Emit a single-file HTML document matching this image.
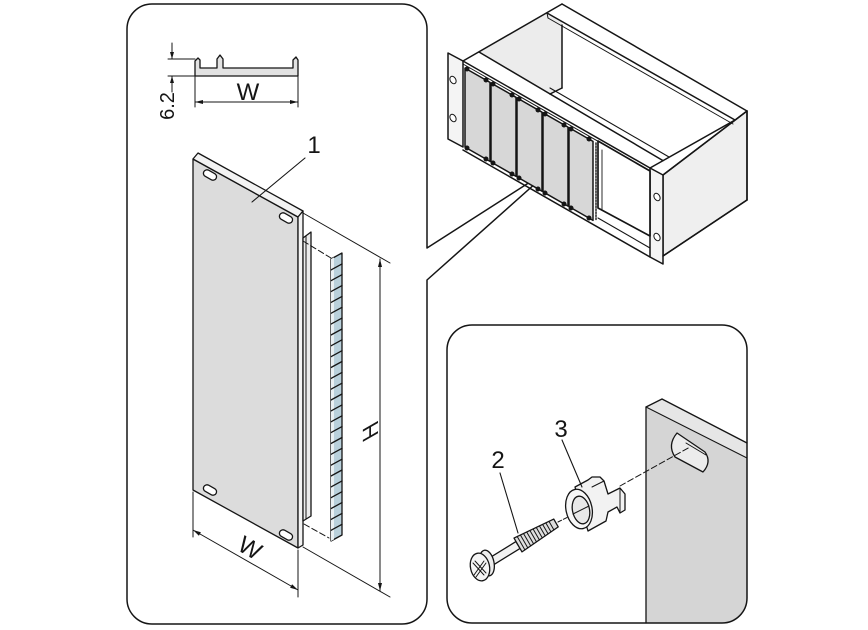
<!DOCTYPE html>
<html><head><meta charset="utf-8"><style>
html,body{margin:0;padding:0;background:#fff;}
svg{display:block;}
text{font-family:"Liberation Sans",Arial,sans-serif;fill:#151515;stroke:none;}
</style></head><body>
<svg width="868" height="630" viewBox="0 0 868 630" xmlns="http://www.w3.org/2000/svg">
<defs>
<clipPath id="rb"><path d="M472,325 H722 A25,25 0 0 1 747,350 V598 A25,25 0 0 1 722,623 H472 A25,25 0 0 1 447,598 V350 A25,25 0 0 1 472,325 Z"/></clipPath>
</defs>
<g fill="none" stroke="#151515" stroke-width="1.3" stroke-linejoin="round" stroke-linecap="round">

<!-- ========== LEFT BOX ========== -->
<path d="M127,29 A25,25 0 0 1 152,4 H402 A25,25 0 0 1 427,29 V248 L555,166 L427,280 V599 A25,25 0 0 1 402,624 H152 A25,25 0 0 1 127,599 Z" stroke-width="1.5"/>

<!-- profile detail -->
<path d="M195,76 V61 L198,58 L200,60 V68 H217 V59 L220,55 L223,59 V68 H293 V60 L296,57 L298,60 V76 Z" fill="#e2e2e2"/>
<line x1="168" y1="59" x2="195" y2="59" stroke-width="1"/>
<line x1="168" y1="76" x2="195" y2="76" stroke-width="1"/>
<line x1="172" y1="43" x2="172" y2="59" stroke-width="1"/>
<line x1="172" y1="76" x2="172" y2="92" stroke-width="1"/>
<polygon points="172,59 170,52 174,52" fill="#151515" stroke="none"/>
<polygon points="172,76 170,83 174,83" fill="#151515" stroke="none"/>
<line x1="195" y1="76" x2="195" y2="107" stroke-width="1"/>
<line x1="298" y1="76" x2="298" y2="107" stroke-width="1"/>
<line x1="195" y1="102" x2="298" y2="102" stroke-width="1"/>
<polygon points="195,102 203,100 203,104" fill="#151515" stroke="none"/>
<polygon points="298,102 290,100 290,104" fill="#151515" stroke="none"/>

<!-- big panel -->
<polygon points="193,159 298,217 298,548 193,490" fill="#dcdcdc"/>
<polygon points="193,159 198,153 303,211 298,217" fill="#f3f3f3"/>
<polygon points="298,217 303,211 303,545 298,548" fill="#f3f3f3"/>
<rect x="-7" y="-3.5" width="14" height="7" rx="3.5" transform="translate(210,175) rotate(29)" fill="#fff"/>
<rect x="-7" y="-3.5" width="14" height="7" rx="3.5" transform="translate(286,218) rotate(29)" fill="#fff"/>
<rect x="-7" y="-3.5" width="14" height="7" rx="3.5" transform="translate(210,490) rotate(29)" fill="#fff"/>
<rect x="-7" y="-3.5" width="14" height="7" rx="3.5" transform="translate(286,535) rotate(29)" fill="#fff"/>

<!-- rail piece behind -->
<polygon points="303,238 311,232 311,516 303,521" fill="#ebebeb"/>
<line x1="306" y1="236" x2="306" y2="519" stroke-width="1"/>

<!-- dashed connectors -->
<line x1="303" y1="241" x2="331" y2="258" stroke-dasharray="6,3" stroke-width="1"/>
<line x1="304" y1="524" x2="329" y2="538" stroke-dasharray="6,3" stroke-width="1"/>

<!-- ladder strip -->
<polygon points="331,259 342,253 342,535 331,541" fill="#b9d0db"/>
<polygon points="331,259 334,257.4 334,539.4 331,541" fill="#e9eff2" stroke="none"/>
<path stroke-width="1.3" d="M331,269.9 l11,-6 M331,280.7 l11,-6 M331,291.6 l11,-6 M331,302.4 l11,-6 M331,313.3 l11,-6 M331,324.1 l11,-6 M331,335 l11,-6 M331,345.8 l11,-6 M331,356.7 l11,-6 M331,367.5 l11,-6 M331,378.4 l11,-6 M331,389.2 l11,-6 M331,400 l11,-6 M331,410.9 l11,-6 M331,421.8 l11,-6 M331,432.6 l11,-6 M331,443.5 l11,-6 M331,454.3 l11,-6 M331,465.2 l11,-6 M331,476 l11,-6 M331,486.9 l11,-6 M331,497.7 l11,-6 M331,508.6 l11,-6 M331,519.4 l11,-6 M331,530.3 l11,-6"/>

<!-- H dimension -->
<line x1="303" y1="213" x2="390" y2="263" stroke-width="1"/>
<line x1="303" y1="547" x2="390" y2="597" stroke-width="1"/>
<line x1="380" y1="259" x2="380" y2="591" stroke-width="1"/>
<polygon points="380,259 378,267 382,267" fill="#151515" stroke="none"/>
<polygon points="380,591 378,583 382,583" fill="#151515" stroke="none"/>

<!-- W bottom dimension -->
<line x1="193" y1="492" x2="193" y2="537" stroke-width="1"/>
<line x1="298" y1="550" x2="298" y2="597" stroke-width="1"/>
<line x1="193" y1="530" x2="298" y2="590" stroke-width="1"/>
<polygon points="193,530 198.9,535.7 200.9,532.2" fill="#151515" stroke="none"/>
<polygon points="298,590 290.1,587.7 292.1,584.3" fill="#151515" stroke="none"/>

<!-- leader 1 -->
<line x1="305" y1="158" x2="252" y2="202" stroke-width="1.1"/>

<!-- ========== RACK ========== -->
<g stroke-width="1.5">
<polygon points="663,175 747,111 747,200 663,256" fill="#efefef"/>
<polygon points="650,168 663,175 663,264 650,257" fill="#f4f4f4"/>
<polygon points="448,53 463,61 463,147 448,139" fill="#f4f4f4"/>
<polygon points="479,52 547,13 562,22 562,88 550,94" fill="#ececec" stroke="none"/>

<line x1="463" y1="61" x2="562" y2="4"/>
<line x1="562" y1="4" x2="747" y2="111"/>
<line x1="547" y1="13" x2="735" y2="120"/>
<line x1="548" y1="18" x2="733" y2="124" stroke-width="1"/>
<line x1="547" y1="13" x2="548" y2="18" stroke-width="1"/>
<line x1="562" y1="25" x2="562" y2="88"/>
<line x1="562" y1="88" x2="550" y2="94"/>
<line x1="550" y1="88" x2="669" y2="157" stroke-width="1.1"/>
<line x1="479" y1="52" x2="663" y2="160.6"/>
<line x1="463" y1="61" x2="650" y2="168"/>
<line x1="463" y1="64" x2="650" y2="171" stroke-width="1"/>
<line x1="650" y1="168" x2="735" y2="120"/>
<line x1="463" y1="150" x2="650" y2="257"/>

<!-- front panels -->
<g fill="#d7d7d7">
<polygon points="465,68.1 490,82.4 490,161.4 465,147.1"/>
<polygon points="491,83 516,97.3 516,176.3 491,162"/>
<polygon points="517,97.9 542,112.2 542,191.2 517,176.9"/>
<polygon points="543,112.8 568,127.1 568,206.1 543,191.8"/>
<polygon points="569,127.6 593,141.4 593,220.4 569,206.6"/>
</g>
<g fill="#151515" stroke="none">
<circle cx="467" cy="69" r="2.5"/><circle cx="486" cy="80" r="2.5"/><circle cx="467" cy="148" r="2.5"/><circle cx="486" cy="159" r="2.5"/>
<circle cx="493" cy="84" r="2.5"/><circle cx="512" cy="95" r="2.5"/><circle cx="493" cy="163" r="2.5"/><circle cx="512" cy="174" r="2.5"/>
<circle cx="519" cy="99" r="2.5"/><circle cx="538" cy="110" r="2.5"/><circle cx="519" cy="178" r="2.5"/><circle cx="538" cy="189" r="2.5"/>
<circle cx="545" cy="114" r="2.5"/><circle cx="564" cy="125" r="2.5"/><circle cx="545" cy="193" r="2.5"/><circle cx="564" cy="204" r="2.5"/>
<circle cx="571" cy="129" r="2.5"/><circle cx="589" cy="139" r="2.5"/><circle cx="571" cy="208" r="2.5"/><circle cx="589" cy="218" r="2.5"/>
</g>

<!-- empty slot -->
<polygon points="598,141 650,171 650,236 598,208" fill="#fff" stroke-width="1.7"/>
<line x1="602" y1="150" x2="602" y2="210" stroke-width="0.9"/>
<line x1="598" y1="218" x2="650" y2="248" stroke-width="1.1"/>
<line x1="596" y1="143" x2="596" y2="220" stroke-dasharray="1.5,1.5" stroke-width="1.4"/>

<!-- right side -->
<line x1="663" y1="175" x2="747" y2="111"/>
<line x1="747" y1="111" x2="747" y2="200"/>
<line x1="747" y1="200" x2="663" y2="256"/>
</g>

<!-- flange holes -->
<g fill="#fff" stroke-width="1">
<ellipse cx="453" cy="80" rx="2.8" ry="4" transform="rotate(-30 453 80)"/>
<ellipse cx="453" cy="118" rx="2.8" ry="4" transform="rotate(-30 453 118)"/>
<ellipse cx="657" cy="197" rx="2.8" ry="4" transform="rotate(-30 657 197)"/>
<ellipse cx="657" cy="237" rx="2.8" ry="4" transform="rotate(-30 657 237)"/>
</g>

<!-- ========== BOTTOM RIGHT BOX ========== -->
<g clip-path="url(#rb)">
<polygon points="646,407 748,458 760,640 646,640" fill="#d5d5d5" stroke="none"/>
<polygon points="646,407 662,399 760,449 760,464" fill="#e6e6e6" stroke="none"/>
</g>
<line x1="646" y1="407" x2="646" y2="623"/>
<line x1="646" y1="407" x2="662" y2="399"/>
<line x1="662" y1="399" x2="747" y2="443"/>
<line x1="646" y1="407" x2="747" y2="458" stroke-width="1"/>
<path d="M677,433 L705,452 Q712,462 703,472 L675,457 Q667,445 677,433 Z" fill="#ececec"/>
<line x1="686" y1="443" x2="706" y2="455" stroke-width="1"/>
<line x1="620" y1="486" x2="690" y2="447" stroke-dasharray="6,3" stroke-width="1"/>

<path d="M472,325 H722 A25,25 0 0 1 747,350 V598 A25,25 0 0 1 722,623 H472 A25,25 0 0 1 447,598 V350 A25,25 0 0 1 472,325 Z" stroke-width="1.5"/>

<!-- clip (3) -->
<polygon points="575,487 588,480 592,477 600,477 604,481 608,494 620,488 625,494 625,510 620,513 617,507 608,512 606,521 588,531" fill="#f2f2f2"/>
<line x1="620" y1="488" x2="620" y2="513" stroke-width="1"/>
<line x1="604" y1="481" x2="592" y2="487" stroke-width="1"/>
<ellipse cx="579" cy="509" rx="13" ry="20" transform="rotate(-12 579 509)" fill="#f7f7f7"/>
<ellipse cx="581" cy="510" rx="8.5" ry="14" transform="rotate(-12 581 510)" fill="#e8e8e8"/>
<line x1="573" y1="514" x2="589" y2="506" stroke-width="1"/>
<line x1="558" y1="522" x2="568" y2="517" stroke-dasharray="4,2" stroke-width="1"/>

<!-- screw (2) -->
<polygon points="481.9,562.6 515.9,541.6 520.1,548.4 486.1,569.4" fill="#f2f2f2"/>
<polygon points="514,538.1 553.75,519.1 558.25,526.9 522,551.9" fill="#dedede"/>
<path stroke-width="1" d="M517.2,536.5 L524.9,549.9 M520.4,535 L527.8,547.9 M523.5,533.5 L530.7,545.9 M526.7,532 L533.6,543.9 M529.9,530.5 L536.5,541.9 M533.1,529 L539.4,539.9 M536.3,527.5 L542.3,537.9 M539.4,525.9 L545.2,535.9 M542.6,524.4 L548.1,533.9 M545.8,522.9 L551,531.9 M549,521.4 L553.9,529.9"/>
<ellipse cx="487" cy="563" rx="7" ry="13" transform="rotate(-12 487 563)" fill="#ededed"/>
<ellipse cx="480" cy="567" rx="9.5" ry="14" transform="rotate(-12 480 567)" fill="#f5f5f5"/>
<path stroke-width="1" d="M473,563 L484,575 M475,561 L486,573 M474,575 L484,561 M476,577 L486,563"/>

<!-- leaders 2, 3 -->
<line x1="500" y1="473" x2="518" y2="533" stroke-width="1.1"/>
<line x1="562" y1="440" x2="582" y2="487" stroke-width="1.1"/>
</g>

<!-- ========== TEXT ========== -->
<text x="0" y="0" font-size="20" text-anchor="middle" transform="translate(174,106) rotate(-90)">6.2</text>
<text x="248" y="100" font-size="24" text-anchor="middle">W</text>
<text x="314" y="153" font-size="24" text-anchor="middle">1</text>
<text x="0" y="0" font-size="22" text-anchor="middle" transform="translate(378,427) rotate(-90) skewX(30)">H</text>
<text x="0" y="0" font-size="24" text-anchor="middle" transform="translate(246,555) rotate(29.8)">W</text>
<text x="498" y="468" font-size="24" text-anchor="middle">2</text>
<text x="561" y="437" font-size="24" text-anchor="middle">3</text>
</svg>
</body></html>
